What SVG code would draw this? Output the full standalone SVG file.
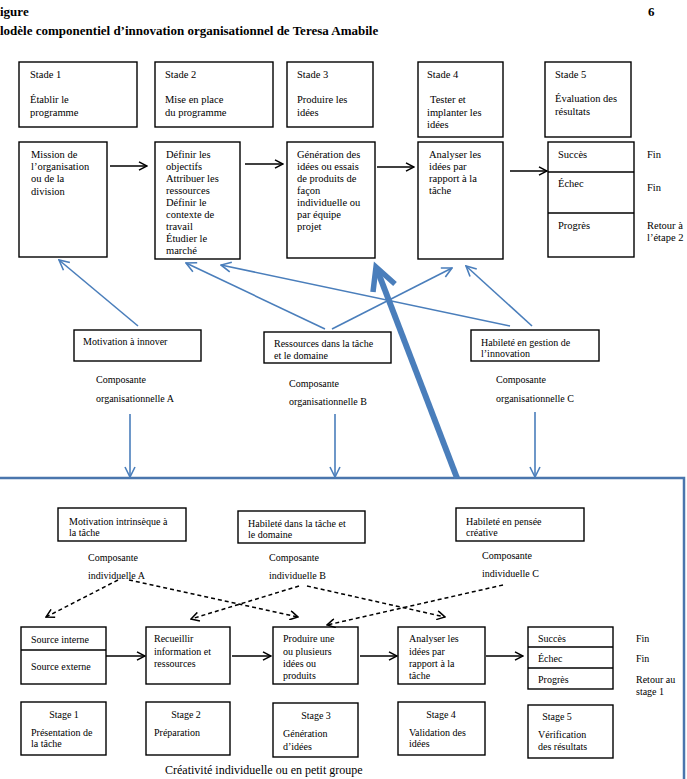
<svg xmlns="http://www.w3.org/2000/svg" width="687" height="779" viewBox="0 0 687 779">
<style>
text{font-family:"Liberation Serif","Times New Roman",serif;fill:#000}
.h{font-size:13px;font-weight:bold}
.t{font-size:10.5px}
.s{font-size:10px}
.c{text-anchor:middle}
.box{fill:#fff;stroke:#000;stroke-width:1.4}
.blk{stroke:#000;stroke-width:1.4;fill:none}
.blue{stroke:#4a7ebb;stroke-width:1.6;fill:none}
.dash{stroke:#000;stroke-width:1.5;fill:none;stroke-dasharray:4 3}
</style>
<defs>
<marker id="mb" viewBox="0 0 10 10" refX="9" refY="5" markerWidth="10" markerHeight="10" orient="auto" markerUnits="userSpaceOnUse">
<path d="M1,0.8 L9,5 L1,9.2" fill="none" stroke="#000" stroke-width="1.5"/>
</marker>
<marker id="mu" viewBox="0 0 12 12" refX="11" refY="6" markerWidth="12" markerHeight="12" orient="auto" markerUnits="userSpaceOnUse">
<path d="M1,1 L11,6 L1,11" fill="none" stroke="#4a7ebb" stroke-width="1.6"/>
</marker>
<marker id="md" viewBox="0 0 10 10" refX="9" refY="5" markerWidth="10" markerHeight="10" orient="auto" markerUnits="userSpaceOnUse">
<path d="M1,0.5 L9,5 L1,9.5" fill="none" stroke="#000" stroke-width="1.5"/>
</marker>
</defs>
<rect width="687" height="779" fill="#fff"/>

<g id="title">
<text class="h" x="0" y="16">igure</text>
<text class="h" x="648" y="16">6</text>
<text class="h" x="0" y="35">lodèle componentiel d’innovation organisationnel de Teresa Amabile</text>
</g>

<rect id="frame" x="-3" y="478" width="687" height="320" fill="none" stroke="#4a76ad" stroke-width="2.5"/>

<g id="stade1"><rect class="box" x="19" y="62" width="118" height="65"/>
<text class="t" x="30" y="78">Stade 1</text><text class="t" x="30" y="103">Établir le</text><text class="t" x="30" y="116">programme</text></g>
<g id="stade2"><rect class="box" x="155" y="62" width="118" height="65"/>
<text class="t" x="165" y="78">Stade 2</text><text class="t" x="165" y="103">Mise en place</text><text class="t" x="165" y="116">du programme</text></g>
<g id="stade3"><rect class="box" x="287" y="62" width="86" height="65"/>
<text class="t" x="297" y="78">Stade 3</text><text class="t" x="297" y="103">Produire les</text><text class="t" x="297" y="116">idées</text></g>
<g id="stade4"><rect class="box" x="418" y="62" width="85" height="75"/>
<text class="t" x="427" y="78">Stade 4</text><text class="t" x="430" y="103">Tester et</text><text class="t" x="427" y="116">implanter les</text><text class="t" x="427" y="128">idées</text></g>
<g id="stade5"><rect class="box" x="545" y="62" width="86" height="75"/>
<text class="t" x="555" y="78">Stade 5</text><text class="t" x="555" y="102">Évaluation des</text><text class="t" x="555" y="115">résultats</text></g>

<g id="mission"><rect class="box" x="19" y="142" width="88" height="115"/>
<text class="t" x="31" y="158">Mission de</text><text class="t" x="31" y="170">l’organisation</text><text class="t" x="31" y="182">ou de la</text><text class="t" x="31" y="195">division</text></g>
<g id="definir"><rect class="box" x="155" y="142" width="85" height="117"/>
<text class="t" x="166" y="158">Définir les</text><text class="t" x="166" y="170">objectifs</text><text class="t" x="166" y="182">Attribuer les</text><text class="t" x="166" y="194">ressources</text><text class="t" x="166" y="206">Définir le</text><text class="t" x="166" y="218">contexte de</text><text class="t" x="166" y="230">travail</text><text class="t" x="166" y="242">Étudier le</text><text class="t" x="166" y="254">marché</text></g>
<g id="generation"><rect class="box" x="287" y="142" width="88" height="116"/>
<text class="t" x="297" y="158">Génération des</text><text class="t" x="297" y="170">idées ou essais</text><text class="t" x="297" y="182">de produits de</text><text class="t" x="297" y="194">façon</text><text class="t" x="297" y="206">individuelle ou</text><text class="t" x="297" y="218">par équipe</text><text class="t" x="297" y="230">projet</text></g>
<g id="analyser1"><rect class="box" x="418" y="142" width="85" height="117"/>
<text class="t" x="429" y="158">Analyser les</text><text class="t" x="429" y="170">idées par</text><text class="t" x="429" y="182">rapport à la</text><text class="t" x="429" y="194">tâche</text></g>
<g id="resultats1"><rect class="box" x="548" y="142" width="86" height="115"/>
<line class="blk" x1="548" y1="172" x2="634" y2="172"/><line class="blk" x1="548" y1="213" x2="634" y2="213"/>
<text class="t" x="558" y="158">Succès</text><text class="t" x="558" y="187">Échec</text><text class="t" x="558" y="229">Progrès</text>
<text class="t" x="647" y="158">Fin</text><text class="t" x="647" y="191">Fin</text><text class="t" x="647" y="229">Retour à</text><text class="t" x="647" y="241">l’étape 2</text></g>

<g id="orgA"><rect class="box" x="74" y="330" width="127" height="31"/>
<text class="s" x="83" y="345">Motivation à innover</text>
<text class="s" x="96" y="383">Composante</text><text class="s" x="96" y="402">organisationnelle A</text></g>
<g id="orgB"><rect class="box" x="264" y="332" width="127" height="31"/>
<text class="s" x="274" y="347">Ressources dans la tâche</text><text class="s" x="274" y="359">et le domaine</text>
<text class="s" x="289" y="387">Composante</text><text class="s" x="289" y="405">organisationnelle  B</text></g>
<g id="orgC"><rect class="box" x="471" y="330" width="128" height="31"/>
<text class="s" x="481" y="346">Habileté en gestion de</text><text class="s" x="481" y="357">l’innovation</text>
<text class="s" x="496" y="383">Composante</text><text class="s" x="496" y="402">organisationnelle  C</text></g>

<g id="indA"><rect class="box" x="58" y="508" width="128" height="33"/>
<text class="s" x="69" y="525">Motivation intrinsèque à</text><text class="s" x="69" y="536">la tâche</text>
<text class="s" x="88" y="561">Composante</text><text class="s" x="88" y="579">individuelle A</text></g>
<g id="indB"><rect class="box" x="238" y="511" width="127" height="32"/>
<text class="s" x="248" y="527">Habileté dans la tâche et</text><text class="s" x="248" y="538">le domaine</text>
<text class="s" x="269" y="561">Composante</text><text class="s" x="269" y="579">individuelle B</text></g>
<g id="indC"><rect class="box" x="456" y="508" width="128" height="33"/>
<text class="s" x="466" y="525">Habileté en pensée</text><text class="s" x="466" y="536">créative</text>
<text class="s" x="482" y="559">Composante</text><text class="s" x="482" y="577">individuelle C</text></g>

<g id="source"><rect class="box" x="21" y="627" width="85" height="57"/>
<line class="blk" x1="21" y1="650" x2="106" y2="650"/>
<text class="s" x="31" y="643">Source interne</text><text class="s" x="31" y="670">Source externe</text></g>
<g id="recueillir"><rect class="box" x="146" y="627" width="84" height="57"/>
<text class="s" x="154" y="642">Recueillir</text><text class="s" x="154" y="655">information et</text><text class="s" x="154" y="667">ressources</text></g>
<g id="produire"><rect class="box" x="273" y="627" width="85" height="57"/>
<text class="s" x="283" y="642">Produire une</text><text class="s" x="283" y="655">ou plusieurs</text><text class="s" x="283" y="667">idées ou</text><text class="s" x="283" y="679">produits</text></g>
<g id="analyser2"><rect class="box" x="398" y="627" width="87" height="57"/>
<text class="s" x="409" y="642">Analyser les</text><text class="s" x="409" y="655">idées par</text><text class="s" x="409" y="667">rapport à la</text><text class="s" x="409" y="679">tâche</text></g>
<g id="resultats2"><rect class="box" x="528" y="627" width="85" height="62"/>
<line class="blk" x1="528" y1="647" x2="613" y2="647"/><line class="blk" x1="528" y1="668" x2="613" y2="668"/>
<text class="s" x="538" y="642">Succès</text><text class="s" x="538" y="662">Échec</text><text class="s" x="538" y="683">Progrès</text>
<text class="s" x="636" y="642">Fin</text><text class="s" x="636" y="662">Fin</text><text class="s" x="636" y="683">Retour au</text><text class="s" x="636" y="695">stage 1</text></g>

<g id="stage1"><rect class="box" x="21" y="702" width="85" height="53"/>
<text class="s c" x="64" y="718">Stage 1</text><text class="s" x="31" y="736">Présentation de</text><text class="s" x="31" y="747">la tâche</text></g>
<g id="stage2"><rect class="box" x="146" y="702" width="84" height="53"/>
<text class="s c" x="186" y="718">Stage 2</text><text class="s" x="154" y="736">Préparation</text></g>
<g id="stage3"><rect class="box" x="273" y="703" width="85" height="54"/>
<text class="s c" x="316" y="719">Stage 3</text><text class="s" x="283" y="737">Génération</text><text class="s" x="283" y="750">d’idées</text></g>
<g id="stage4"><rect class="box" x="398" y="702" width="87" height="53"/>
<text class="s c" x="441" y="718">Stage 4</text><text class="s" x="409" y="736">Validation des</text><text class="s" x="409" y="747">idées</text></g>
<g id="stage5"><rect class="box" x="528" y="705" width="85" height="53"/>
<text class="s c" x="557" y="720">Stage 5</text><text class="s" x="538" y="738">Vérification</text><text class="s" x="538" y="750">des résultats</text></g>

<text id="caption" x="165" y="774" style="font-size:12px">Créativité individuelle ou en petit groupe</text>

<g id="connectors">
<line class="blk" x1="110" y1="166" x2="147" y2="166" marker-end="url(#mb)"/>
<line class="blk" x1="245" y1="164" x2="283" y2="164" marker-end="url(#mb)"/>
<line class="blk" x1="377" y1="167" x2="414" y2="167" marker-end="url(#mb)"/>
<line class="blk" x1="510" y1="171" x2="547" y2="171" marker-end="url(#mb)"/>

<line class="blue" x1="138" y1="326" x2="59" y2="260" marker-end="url(#mu)"/>
<line class="blue" x1="325" y1="329" x2="186" y2="263" marker-end="url(#mu)"/>
<line class="blue" x1="332" y1="329" x2="452" y2="268" marker-end="url(#mu)"/>
<line class="blue" x1="510" y1="326" x2="221" y2="265" marker-end="url(#mu)"/>
<line class="blue" x1="532" y1="326" x2="466" y2="266" marker-end="url(#mu)"/>

<line class="blue" x1="130" y1="414" x2="130" y2="477" marker-end="url(#mu)"/>
<line class="blue" x1="335" y1="414" x2="335" y2="477" marker-end="url(#mu)"/>
<line class="blue" x1="535" y1="412" x2="535" y2="477" marker-end="url(#mu)"/>

<path d="M457,478 L378,272" fill="none" stroke="#4a7ebb" stroke-width="6"/>
<path d="M373,292 L376,267 L395,284" fill="none" stroke="#4a7ebb" stroke-width="5.5" stroke-linejoin="miter"/>

<line class="dash" x1="118" y1="580" x2="46" y2="617" marker-end="url(#md)"/>
<line class="dash" x1="129" y1="580" x2="298" y2="617" marker-end="url(#md)"/>
<line class="dash" x1="299" y1="586" x2="191" y2="619" marker-end="url(#md)"/>
<line class="dash" x1="307" y1="586" x2="445" y2="617" marker-end="url(#md)"/>
<line class="dash" x1="503" y1="585" x2="327" y2="625" marker-end="url(#md)"/>

<line class="blk" x1="106" y1="656" x2="145" y2="656" marker-end="url(#mb)"/>
<line class="blk" x1="232" y1="656" x2="271" y2="656" marker-end="url(#mb)"/>
<line class="blk" x1="360" y1="656" x2="397" y2="656" marker-end="url(#mb)"/>
<line class="blk" x1="486" y1="656" x2="523" y2="656" marker-end="url(#mb)"/>
</g>
</svg>
